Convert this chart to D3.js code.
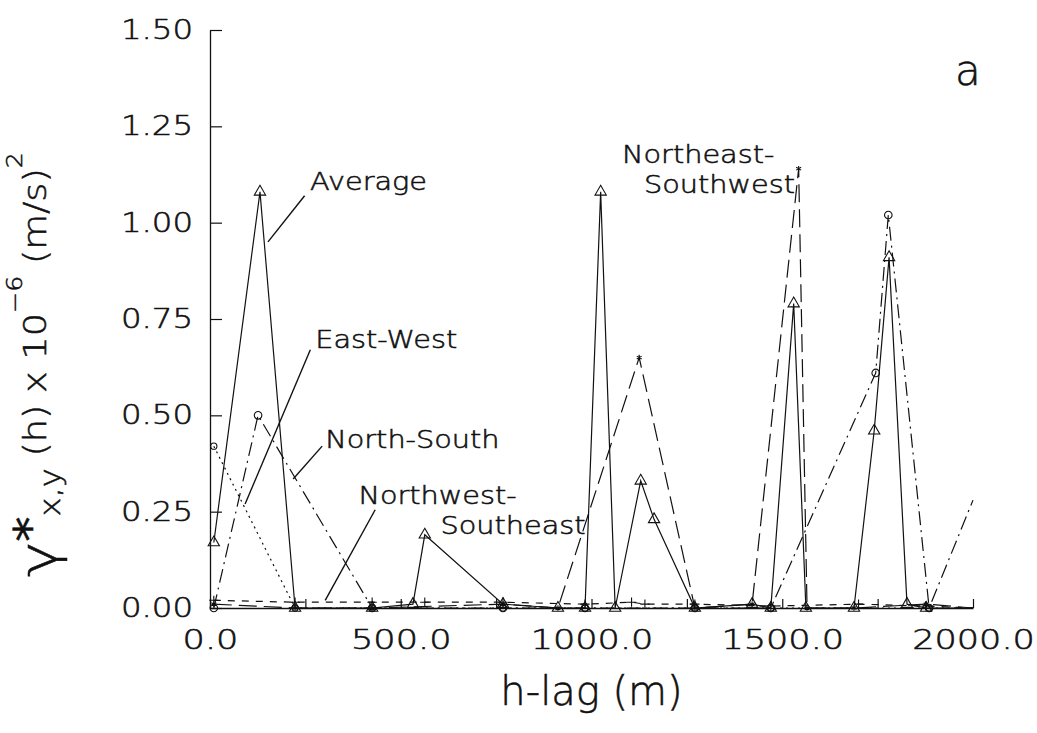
<!DOCTYPE html>
<html>
<head>
<meta charset="utf-8">
<script src="https://cdn.jsdelivr.net/npm/d3@7"></script>
<style>
  body { margin: 0; background: #fff; }
  svg text { font-family: "DejaVu Sans", sans-serif; font-weight: 200; stroke: #111; stroke-width: 0.55px; }
</style>
</head>
<body>
<svg width="1037" height="733"></svg>
<script>
// lag distances (m) and variogram values for each direction
const avgLag = [10, 131, 223, 425, 532, 563, 768, 912, 983, 1024, 1062, 1129, 1164, 1271, 1421, 1470, 1530, 1562, 1688, 1741, 1780, 1827, 1877, 2000];
const avgVal = [0.17, 1.08, 0.0, 0.0, 0.01, 0.19, 0.01, 0.0, 0.0, 1.08, 0.0, 0.33, 0.23, 0.0, 0.01, 0.0, 0.79, 0.0, 0.0, 0.46, 0.91, 0.01, 0.0, 0.0];

const neLag = [10, 223, 425, 768, 912, 1125, 1271, 1421, 1543, 1565, 1688, 1877, 2000];
const neVal = [0.01, 0.0, 0.0, 0.01, 0.0, 0.65, 0.0, 0.01, 1.14, 0.0, 0.0, 0.01, 0.0];

const nsLag = [10, 126, 425, 768, 983, 1271, 1470, 1745, 1778, 1885, 2000];
const nsVal = [0.0, 0.50, 0.0, 0.0, 0.0, 0.0, 0.0, 0.61, 1.02, 0.0, 0.28];

const ewLag = [10, 223, 425, 768, 983, 1271, 1470, 1885, 2000];
const ewVal = [0.42, 0.0, 0.0, 0.0, 0.0, 0.0, 0.0, 0.0, 0.0];

const nwLag = [10, 223, 425, 563, 768, 983, 1105, 1140, 1271, 1470, 1700, 1877, 2000];
const nwVal = [0.02, 0.015, 0.015, 0.015, 0.015, 0.01, 0.015, 0.01, 0.01, 0.005, 0.01, 0.005, 0.0];

const xTicks = [0, 250, 500, 750, 1000, 1250, 1500, 1750, 2000];
const xLabels = ["0.0", "", "500.0", "", "1000.0", "", "1500.0", "", "2000.0"];
const yTicks = [0, 0.25, 0.5, 0.75, 1.0, 1.25, 1.5];
const yLabels = ["0.00", "0.25", "0.50", "0.75", "1.00", "1.25", "1.50"];

const MARGIN = {left: 210, right: 64, top: 30, bottom: 125};
const W = 1037, H = 733;
const WIDE_X = 1.3, WIDE_Y = 1.2;

const x = d3.scaleLinear().domain([0, 2000]).range([MARGIN.left, W - MARGIN.right]);
const y = d3.scaleLinear().domain([0, 1.5]).range([H - MARGIN.bottom, MARGIN.top]);

const svg = d3.select("svg");

// axes with inward ticks
const xAxis = svg.append("g")
    .attr("transform", `translate(0,${y(0)})`)
    .call(d3.axisBottom(x).tickValues(xTicks).tickSize(-9).tickSizeOuter(0)
      .tickPadding(22).tickFormat((d, i) => xLabels[i]));

const yAxis = svg.append("g")
    .attr("transform", `translate(${x(0)},0)`)
    .call(d3.axisLeft(y).tickValues(yTicks).tickSize(-12).tickSizeOuter(0)
      .tickPadding(17 / WIDE_Y).tickFormat((d, i) => yLabels[i]));

[xAxis, yAxis].forEach(a => {
  a.attr("font-family", null).attr("font-size", null);
  a.select(".domain").attr("stroke", "#111").attr("stroke-width", 1.3);
  a.selectAll(".tick line").attr("stroke", "#111").attr("stroke-width", 1.2);
  a.selectAll(".tick text")
    .attr("fill", "#111")
    .style("font-size", "27px");
});
xAxis.selectAll(".tick text").attr("transform", `scale(${WIDE_X},1)`);
yAxis.selectAll(".tick text").attr("transform", `scale(${WIDE_Y},1)`);

const series = [
  {name: "Average", lag: avgLag, val: avgVal, dash: null, sym: d3.symbolTriangle, size: 55},
  {name: "Northeast-Southwest", lag: neLag, val: neVal, dash: "18,7", sym: d3.symbolAsterisk, size: 22},
  {name: "North-South", lag: nsLag, val: nsVal, dash: "14,5,2,5", sym: d3.symbolCircle, size: 45},
  {name: "East-West", lag: ewLag, val: ewVal, dash: "2,4", sym: d3.symbolCircle, size: 30},
  {name: "Northwest-Southeast", lag: nwLag, val: nwVal, dash: "7,7", sym: d3.symbolPlus, size: 30}
];

const line = d3.line().x(d => x(d[0])).y(d => y(d[1]));

series.forEach(s => {
  const pts = s.lag.map((l, i) => [l, s.val[i]]);
  svg.append("path")
    .datum(pts)
    .attr("d", line)
    .attr("fill", "none")
    .attr("stroke", "#111")
    .attr("stroke-width", 1.2)
    .attr("stroke-dasharray", s.dash);
  // no symbol where a curve runs off the right edge
  svg.append("g").selectAll("path")
    .data(pts.filter(d => d[0] < 2000))
    .enter()
    .append("path")
    .attr("transform", d => `translate(${x(d[0])},${y(d[1])})`)
    .attr("d", d3.symbol().type(s.sym).size(s.size))
    .attr("fill", "none")
    .attr("stroke", "#111")
    .attr("stroke-width", 1.1);
});

// labels with leader lines (anchored in data units)
const notes = [
  {lines: ["Average"], tx: 262, ty: 1.085, lx1: 248, ly1: 1.07, lx2: 152, ly2: 0.95},
  {lines: ["East-West"], tx: 276, ty: 0.675, lx1: 263, ly1: 0.67, lx2: 92, ly2: 0.27},
  {lines: ["North-South"], tx: 302, ty: 0.415, lx1: 294, ly1: 0.42, lx2: 218, ly2: 0.335},
  {lines: ["Northwest-", "Southeast"], tx: 389, ty: 0.27, lx1: 433, ly1: 0.255, lx2: 302, ly2: 0.02, dx2: 82},
  {lines: ["Northeast-", "Southwest"], tx: 1080, ty: 1.155, dx2: 22}
];

notes.forEach(n => {
  n.lines.forEach((t, i) => {
    svg.append("text")
      .attr("transform", `translate(${x(n.tx) + (i ? n.dx2 : 0)},${y(n.ty) + i * 30}) scale(1.15,1)`)
      .style("font-size", "25px")
      .attr("fill", "#111")
      .text(t);
  });
  if (n.lx1 !== undefined) {
    svg.append("line")
      .attr("x1", x(n.lx1)).attr("y1", y(n.ly1))
      .attr("x2", x(n.lx2)).attr("y2", y(n.ly2))
      .attr("stroke", "#111").attr("stroke-width", 1.4);
  }
});

svg.append("text")
  .attr("x", 955).attr("y", 85)
  .style("font-size", "42px")
  .attr("fill", "#111")
  .text("a");

// x axis title
svg.append("text")
  .attr("x", x(1000)).attr("y", 705)
  .attr("text-anchor", "middle")
  .style("font-size", "40px")
  .attr("fill", "#111")
  .text("h-lag (m)");

// y axis title, built from pieces
const yt = svg.append("text")
  .attr("transform", "translate(46,577) rotate(-90)")
  .attr("fill", "#111");
yt.append("tspan").style("font-size", "52px").attr("dy", 10).text("γ");
yt.append("tspan").style("font-size", "44px").style("font-weight", 400).attr("dy", -10).text("*");
yt.append("tspan").style("font-size", "28px").attr("dy", 14).text("x,y");
yt.append("tspan").style("font-size", "32px").attr("dy", -14).text(" (h) x 10");
yt.append("tspan").style("font-size", "22px").attr("dy", -24).text("−6");
yt.append("tspan").style("font-size", "32px").attr("dy", 24).text(" (m/s)");
yt.append("tspan").style("font-size", "22px").attr("dy", -24).text("2");
const yw = yt.node().getComputedTextLength();
yt.attr("transform", `translate(46,577) rotate(-90) scale(${425 / yw},1)`);
</script>
</body>
</html>
